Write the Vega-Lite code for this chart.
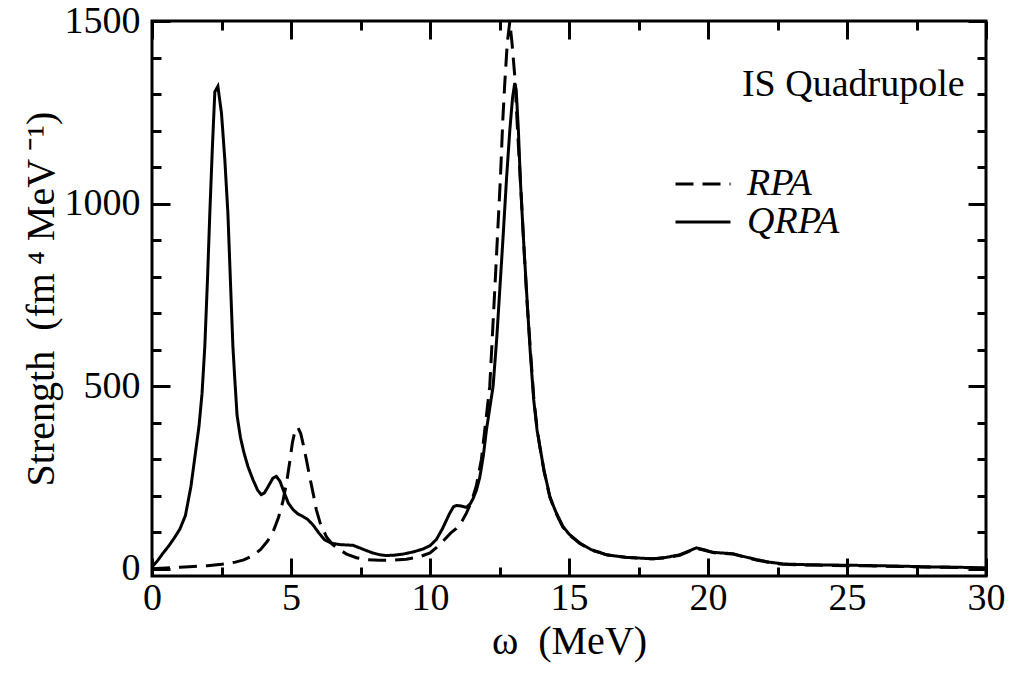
{
  "$schema": "https://vega.github.io/schema/vega-lite/v6.json",
  "width": 834,
  "height": 555,
  "autosize": {"type": "none"},
  "padding": {"left": 152, "top": 21, "right": 25, "bottom": 98},
  "background": "white",
  "datasets": {
    "curves": [
      {"w": 0, "s": 5, "model": "QRPA"},
      {"w": 0.2, "s": 22, "model": "QRPA"},
      {"w": 0.4, "s": 43, "model": "QRPA"},
      {"w": 0.6, "s": 62, "model": "QRPA"},
      {"w": 0.8, "s": 84, "model": "QRPA"},
      {"w": 1.0, "s": 108, "model": "QRPA"},
      {"w": 1.2, "s": 145, "model": "QRPA"},
      {"w": 1.4, "s": 225, "model": "QRPA"},
      {"w": 1.55, "s": 310, "model": "QRPA"},
      {"w": 1.69, "s": 390, "model": "QRPA"},
      {"w": 1.8, "s": 480, "model": "QRPA"},
      {"w": 1.9, "s": 609, "model": "QRPA"},
      {"w": 2.0, "s": 800, "model": "QRPA"},
      {"w": 2.08, "s": 974, "model": "QRPA"},
      {"w": 2.17, "s": 1150, "model": "QRPA"},
      {"w": 2.26, "s": 1306, "model": "QRPA"},
      {"w": 2.37, "s": 1321, "model": "QRPA"},
      {"w": 2.5, "s": 1247, "model": "QRPA"},
      {"w": 2.62, "s": 1120, "model": "QRPA"},
      {"w": 2.73, "s": 974, "model": "QRPA"},
      {"w": 2.82, "s": 790, "model": "QRPA"},
      {"w": 2.91, "s": 609, "model": "QRPA"},
      {"w": 2.98, "s": 517, "model": "QRPA"},
      {"w": 3.06, "s": 420, "model": "QRPA"},
      {"w": 3.18, "s": 360, "model": "QRPA"},
      {"w": 3.3, "s": 320, "model": "QRPA"},
      {"w": 3.45, "s": 280, "model": "QRPA"},
      {"w": 3.63, "s": 244, "model": "QRPA"},
      {"w": 3.8, "s": 215, "model": "QRPA"},
      {"w": 3.93, "s": 203, "model": "QRPA"},
      {"w": 4.05, "s": 208, "model": "QRPA"},
      {"w": 4.2, "s": 228, "model": "QRPA"},
      {"w": 4.35, "s": 248, "model": "QRPA"},
      {"w": 4.47, "s": 253, "model": "QRPA"},
      {"w": 4.6, "s": 240, "model": "QRPA"},
      {"w": 4.75, "s": 210, "model": "QRPA"},
      {"w": 4.9, "s": 180, "model": "QRPA"},
      {"w": 5.07, "s": 162, "model": "QRPA"},
      {"w": 5.25, "s": 150, "model": "QRPA"},
      {"w": 5.43, "s": 143, "model": "QRPA"},
      {"w": 5.6, "s": 135, "model": "QRPA"},
      {"w": 5.79, "s": 120, "model": "QRPA"},
      {"w": 6.0, "s": 98, "model": "QRPA"},
      {"w": 6.21, "s": 79, "model": "QRPA"},
      {"w": 6.45, "s": 70, "model": "QRPA"},
      {"w": 6.75, "s": 66, "model": "QRPA"},
      {"w": 7.0, "s": 65, "model": "QRPA"},
      {"w": 7.23, "s": 64, "model": "QRPA"},
      {"w": 7.47, "s": 57, "model": "QRPA"},
      {"w": 7.7, "s": 50, "model": "QRPA"},
      {"w": 7.95, "s": 43, "model": "QRPA"},
      {"w": 8.2, "s": 38, "model": "QRPA"},
      {"w": 8.43, "s": 36, "model": "QRPA"},
      {"w": 8.7, "s": 37, "model": "QRPA"},
      {"w": 9.03, "s": 40, "model": "QRPA"},
      {"w": 9.4, "s": 46, "model": "QRPA"},
      {"w": 9.75, "s": 54, "model": "QRPA"},
      {"w": 10.0, "s": 63, "model": "QRPA"},
      {"w": 10.23, "s": 80, "model": "QRPA"},
      {"w": 10.45, "s": 110, "model": "QRPA"},
      {"w": 10.71, "s": 152, "model": "QRPA"},
      {"w": 10.85, "s": 170, "model": "QRPA"},
      {"w": 10.95, "s": 173, "model": "QRPA"},
      {"w": 11.1, "s": 172, "model": "QRPA"},
      {"w": 11.31, "s": 168, "model": "QRPA"},
      {"w": 11.45, "s": 178, "model": "QRPA"},
      {"w": 11.55, "s": 192, "model": "QRPA"},
      {"w": 11.67, "s": 215, "model": "QRPA"},
      {"w": 11.79, "s": 250, "model": "QRPA"},
      {"w": 11.92, "s": 310, "model": "QRPA"},
      {"w": 12.03, "s": 380, "model": "QRPA"},
      {"w": 12.15, "s": 440, "model": "QRPA"},
      {"w": 12.27, "s": 500, "model": "QRPA"},
      {"w": 12.4, "s": 630, "model": "QRPA"},
      {"w": 12.51, "s": 764, "model": "QRPA"},
      {"w": 12.63, "s": 910, "model": "QRPA"},
      {"w": 12.75, "s": 1065, "model": "QRPA"},
      {"w": 12.87, "s": 1200, "model": "QRPA"},
      {"w": 12.97, "s": 1290, "model": "QRPA"},
      {"w": 13.05, "s": 1330, "model": "QRPA"},
      {"w": 13.1, "s": 1312, "model": "QRPA"},
      {"w": 13.18, "s": 1200, "model": "QRPA"},
      {"w": 13.25, "s": 1065, "model": "QRPA"},
      {"w": 13.35, "s": 920, "model": "QRPA"},
      {"w": 13.47, "s": 764, "model": "QRPA"},
      {"w": 13.6, "s": 600, "model": "QRPA"},
      {"w": 13.73, "s": 463, "model": "QRPA"},
      {"w": 13.85, "s": 380, "model": "QRPA"},
      {"w": 13.95, "s": 335, "model": "QRPA"},
      {"w": 14.1, "s": 270, "model": "QRPA"},
      {"w": 14.31, "s": 198, "model": "QRPA"},
      {"w": 14.5, "s": 160, "model": "QRPA"},
      {"w": 14.78, "s": 116, "model": "QRPA"},
      {"w": 15.0, "s": 95, "model": "QRPA"},
      {"w": 15.39, "s": 70, "model": "QRPA"},
      {"w": 15.8, "s": 52, "model": "QRPA"},
      {"w": 16.1, "s": 45, "model": "QRPA"},
      {"w": 16.35, "s": 38, "model": "QRPA"},
      {"w": 17.06, "s": 31, "model": "QRPA"},
      {"w": 17.54, "s": 29, "model": "QRPA"},
      {"w": 18.02, "s": 27, "model": "QRPA"},
      {"w": 18.5, "s": 31, "model": "QRPA"},
      {"w": 18.98, "s": 38, "model": "QRPA"},
      {"w": 19.3, "s": 48, "model": "QRPA"},
      {"w": 19.58, "s": 57, "model": "QRPA"},
      {"w": 19.8, "s": 53, "model": "QRPA"},
      {"w": 20.18, "s": 45, "model": "QRPA"},
      {"w": 20.5, "s": 43, "model": "QRPA"},
      {"w": 20.9, "s": 41, "model": "QRPA"},
      {"w": 21.3, "s": 33, "model": "QRPA"},
      {"w": 21.74, "s": 25, "model": "QRPA"},
      {"w": 22.2, "s": 18, "model": "QRPA"},
      {"w": 22.7, "s": 13, "model": "QRPA"},
      {"w": 23.5, "s": 11, "model": "QRPA"},
      {"w": 24.5, "s": 10, "model": "QRPA"},
      {"w": 25.5, "s": 9, "model": "QRPA"},
      {"w": 26.9, "s": 7, "model": "QRPA"},
      {"w": 28.0, "s": 5, "model": "QRPA"},
      {"w": 29.0, "s": 4, "model": "QRPA"},
      {"w": 30.0, "s": 2, "model": "QRPA"},
      {"w": 0, "s": 0, "model": "RPA"},
      {"w": 0.5, "s": 2, "model": "RPA"},
      {"w": 1.0, "s": 4, "model": "RPA"},
      {"w": 1.5, "s": 6, "model": "RPA"},
      {"w": 2.0, "s": 8, "model": "RPA"},
      {"w": 2.5, "s": 12, "model": "RPA"},
      {"w": 3.0, "s": 18, "model": "RPA"},
      {"w": 3.3, "s": 24, "model": "RPA"},
      {"w": 3.6, "s": 35, "model": "RPA"},
      {"w": 3.9, "s": 52, "model": "RPA"},
      {"w": 4.15, "s": 75, "model": "RPA"},
      {"w": 4.35, "s": 100, "model": "RPA"},
      {"w": 4.55, "s": 140, "model": "RPA"},
      {"w": 4.71, "s": 185, "model": "RPA"},
      {"w": 4.85, "s": 240, "model": "RPA"},
      {"w": 4.95, "s": 290, "model": "RPA"},
      {"w": 5.05, "s": 345, "model": "RPA"},
      {"w": 5.15, "s": 380, "model": "RPA"},
      {"w": 5.25, "s": 387, "model": "RPA"},
      {"w": 5.35, "s": 370, "model": "RPA"},
      {"w": 5.43, "s": 344, "model": "RPA"},
      {"w": 5.55, "s": 300, "model": "RPA"},
      {"w": 5.67, "s": 253, "model": "RPA"},
      {"w": 5.8, "s": 205, "model": "RPA"},
      {"w": 5.91, "s": 162, "model": "RPA"},
      {"w": 6.05, "s": 125, "model": "RPA"},
      {"w": 6.27, "s": 88, "model": "RPA"},
      {"w": 6.5, "s": 66, "model": "RPA"},
      {"w": 6.75, "s": 52, "model": "RPA"},
      {"w": 7.0, "s": 40, "model": "RPA"},
      {"w": 7.35, "s": 30, "model": "RPA"},
      {"w": 7.7, "s": 25, "model": "RPA"},
      {"w": 8.19, "s": 23, "model": "RPA"},
      {"w": 8.6, "s": 23, "model": "RPA"},
      {"w": 9.15, "s": 26, "model": "RPA"},
      {"w": 9.6, "s": 32, "model": "RPA"},
      {"w": 10.0, "s": 43, "model": "RPA"},
      {"w": 10.23, "s": 58, "model": "RPA"},
      {"w": 10.5, "s": 78, "model": "RPA"},
      {"w": 10.75, "s": 98, "model": "RPA"},
      {"w": 10.95, "s": 110, "model": "RPA"},
      {"w": 11.15, "s": 130, "model": "RPA"},
      {"w": 11.31, "s": 152, "model": "RPA"},
      {"w": 11.5, "s": 185, "model": "RPA"},
      {"w": 11.67, "s": 228, "model": "RPA"},
      {"w": 11.85, "s": 300, "model": "RPA"},
      {"w": 12.03, "s": 420, "model": "RPA"},
      {"w": 12.15, "s": 500, "model": "RPA"},
      {"w": 12.33, "s": 764, "model": "RPA"},
      {"w": 12.42, "s": 900, "model": "RPA"},
      {"w": 12.53, "s": 1065, "model": "RPA"},
      {"w": 12.62, "s": 1230, "model": "RPA"},
      {"w": 12.69, "s": 1330, "model": "RPA"},
      {"w": 12.78, "s": 1440, "model": "RPA"},
      {"w": 12.87, "s": 1498, "model": "RPA"},
      {"w": 12.95, "s": 1440, "model": "RPA"},
      {"w": 13.05, "s": 1348, "model": "RPA"},
      {"w": 13.15, "s": 1200, "model": "RPA"},
      {"w": 13.29, "s": 1010, "model": "RPA"},
      {"w": 13.4, "s": 850, "model": "RPA"},
      {"w": 13.5, "s": 720, "model": "RPA"},
      {"w": 13.62, "s": 590, "model": "RPA"},
      {"w": 13.73, "s": 470, "model": "RPA"},
      {"w": 13.85, "s": 385, "model": "RPA"},
      {"w": 13.95, "s": 335, "model": "RPA"},
      {"w": 14.1, "s": 268, "model": "RPA"},
      {"w": 14.31, "s": 196, "model": "RPA"},
      {"w": 14.5, "s": 157, "model": "RPA"},
      {"w": 14.78, "s": 114, "model": "RPA"},
      {"w": 15.0, "s": 93, "model": "RPA"},
      {"w": 15.39, "s": 69, "model": "RPA"},
      {"w": 15.8, "s": 51, "model": "RPA"},
      {"w": 16.1, "s": 44, "model": "RPA"},
      {"w": 16.35, "s": 38, "model": "RPA"},
      {"w": 17.06, "s": 31, "model": "RPA"},
      {"w": 17.54, "s": 29, "model": "RPA"},
      {"w": 18.02, "s": 27, "model": "RPA"},
      {"w": 18.5, "s": 30, "model": "RPA"},
      {"w": 18.98, "s": 37, "model": "RPA"},
      {"w": 19.3, "s": 47, "model": "RPA"},
      {"w": 19.58, "s": 55, "model": "RPA"},
      {"w": 19.8, "s": 52, "model": "RPA"},
      {"w": 20.18, "s": 44, "model": "RPA"},
      {"w": 20.5, "s": 42, "model": "RPA"},
      {"w": 20.9, "s": 40, "model": "RPA"},
      {"w": 21.3, "s": 32, "model": "RPA"},
      {"w": 21.74, "s": 24, "model": "RPA"},
      {"w": 22.2, "s": 17, "model": "RPA"},
      {"w": 22.7, "s": 12, "model": "RPA"},
      {"w": 23.5, "s": 10, "model": "RPA"},
      {"w": 24.5, "s": 9, "model": "RPA"},
      {"w": 25.5, "s": 8, "model": "RPA"},
      {"w": 26.9, "s": 6, "model": "RPA"},
      {"w": 28.0, "s": 4, "model": "RPA"},
      {"w": 29.0, "s": 3, "model": "RPA"},
      {"w": 30.0, "s": 1, "model": "RPA"}
    ],
    "note": [{"label": "IS Quadrupole"}]
  },
  "data": {"name": "curves"},
  "resolve": {"axis": {"x": "independent", "y": "independent"}},
  "layer": [
    {
      "mark": {"type": "line", "color": "black", "strokeWidth": 3, "clip": true, "strokeCap": "butt"},
      "encoding": {
        "x": {
          "field": "w", "type": "quantitative",
          "scale": {"domain": [0, 30], "nice": false, "zero": false},
          "axis": {"orient": "bottom", "values": [0, 5, 10, 15, 20, 25, 30], "format": "d", "tickSize": -18, "labelPadding": 21, "labelFlush": false, "labelOverlap": false, "title": "ω\u00a0\u00a0(MeV)", "titleFontSize": 40, "titlePadding": 4}
        },
        "y": {
          "field": "s", "type": "quantitative",
          "scale": {"domain": [-20, 1500], "nice": false, "zero": false},
          "axis": {"orient": "left", "values": [0, 500, 1000, 1500], "format": "d", "tickSize": -18, "labelPadding": 30, "labelFlush": false, "labelOverlap": false, "title": "Strength\u00a0\u00a0(fm\u2009⁴\u00a0MeV\u2009⁻¹)", "titleFontSize": 40, "titlePadding": 3}
        },
        "strokeDash": {
          "field": "model", "type": "nominal",
          "scale": {"domain": ["RPA", "QRPA"], "range": [[18, 9], [1, 0]]},
          "legend": {
            "title": null, "orient": "none", "legendX": 532, "legendY": 144,
            "symbolType": "M-2,0H2", "symbolSize": 756, "symbolStrokeWidth": 3,
            "symbolStrokeColor": "black", "labelFont": "Liberation Serif",
            "labelFontSize": 38, "labelFontStyle": "italic", "labelColor": "black",
            "labelOffset": 25, "rowPadding": -3, "padding": 0
          }
        },
        "order": {"field": "w", "type": "quantitative"}
      }
    },
    {
      "mark": {"type": "line", "opacity": 0},
      "encoding": {
        "x": {"field": "w", "type": "quantitative", "axis": {"orient": "bottom", "values": [2.5, 7.5, 12.5, 17.5, 22.5, 27.5], "tickSize": -9, "labels": false, "title": null}},
        "y": {"field": "s", "type": "quantitative", "axis": {"orient": "left", "values": [100, 200, 300, 400, 600, 700, 800, 900, 1100, 1200, 1300, 1400], "tickSize": -9, "labels": false, "title": null}}
      }
    },
    {
      "mark": {"type": "line", "opacity": 0},
      "encoding": {
        "x": {"field": "w", "type": "quantitative", "axis": {"orient": "top", "values": [0, 5, 10, 15, 20, 25, 30], "tickSize": -18, "labels": false, "title": null}},
        "y": {"field": "s", "type": "quantitative", "axis": {"orient": "right", "values": [0, 500, 1000, 1500], "tickSize": -18, "labels": false, "title": null}}
      }
    },
    {
      "mark": {"type": "line", "opacity": 0},
      "encoding": {
        "x": {"field": "w", "type": "quantitative", "axis": {"orient": "top", "values": [2.5, 7.5, 12.5, 17.5, 22.5, 27.5], "tickSize": -9, "labels": false, "title": null}},
        "y": {"field": "s", "type": "quantitative", "axis": {"orient": "right", "values": [100, 200, 300, 400, 600, 700, 800, 900, 1100, 1200, 1300, 1400], "tickSize": -9, "labels": false, "title": null}}
      }
    },
    {
      "data": {"name": "note"},
      "mark": {"type": "text", "font": "Liberation Serif", "fontSize": 38, "align": "right", "baseline": "middle", "color": "black"},
      "encoding": {
        "text": {"field": "label", "type": "nominal"},
        "x": {"datum": 29.23, "type": "quantitative", "axis": null},
        "y": {"datum": 1325, "type": "quantitative", "axis": null}
      }
    }
  ],
  "config": {
    "view": {"stroke": "black", "strokeWidth": 3},
    "axis": {
      "grid": false, "domain": false, "tickColor": "black", "tickWidth": 3,
      "labelFont": "Liberation Serif", "labelFontSize": 38, "labelColor": "black",
      "titleFont": "Liberation Serif", "titleFontSize": 38, "titleFontWeight": "normal", "titleColor": "black"
    }
  }
}
